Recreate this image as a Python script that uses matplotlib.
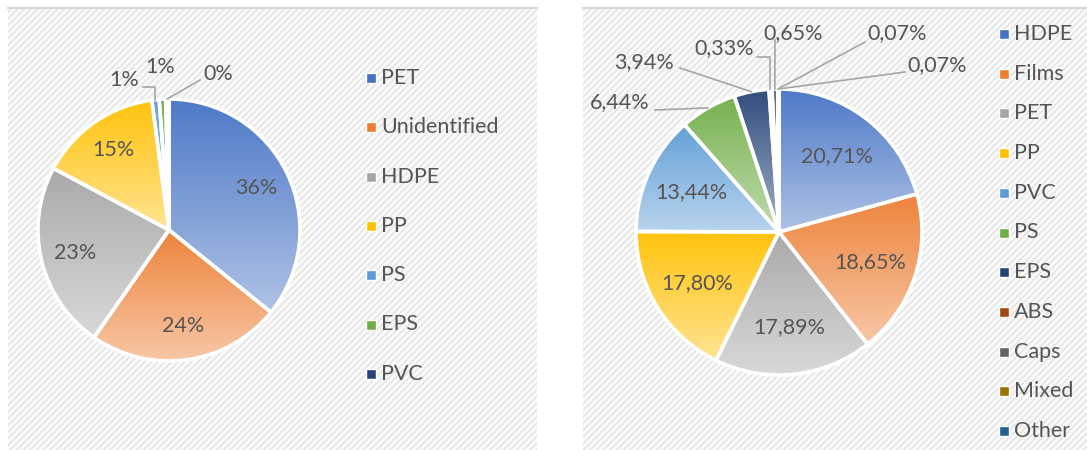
import numpy as np
import matplotlib
matplotlib.use("Agg")
import matplotlib.pyplot as plt
import matplotlib.colors as mcolors
from matplotlib.patches import Rectangle

# --- data ---
left_labels = ["PET", "Unidentified", "HDPE", "PP", "PS", "EPS", "PVC"]
left_values = [35.8, 23.9, 23.1, 15.1, 0.9, 0.8, 0.4]
left_colors = ["#4472C4", "#ED7D31", "#A5A5A5", "#FFC000", "#5B9BD5", "#70AD47", "#264478"]

right_labels = ["HDPE", "Films", "PET", "PP", "PVC", "PS", "EPS", "ABS", "Caps", "Mixed", "Other"]
right_values = [20.71, 18.65, 17.89, 17.80, 13.44, 6.44, 3.94, 0.33, 0.65, 0.07, 0.07]
right_colors = ["#4472C4", "#ED7D31", "#A5A5A5", "#FFC000", "#5B9BD5", "#70AD47",
                "#264478", "#9E480E", "#636363", "#997300", "#255E91"]

# outside labels: index -> (text x, text y, line start x, line start y, elbow) in pixel units
left_outside = {4: (124, 80, 143, 87, True), 5: (160, 67, None, None, False),
                6: (218, 74, 200, 80, False)}
right_outside = {5: (620, 102, 655, 110, False), 6: (644, 62, 680, 68, False),
                 7: (724, 48, 757, 57, True), 8: (793, 33, 775, 40, False),
                 9: (897, 33, 865, 42, False), 10: (937, 65, 905, 72, False)}

W, H = 1087, 450
TXT = "#555555"
LINE = "#A6A6A6"
FS = 15.5
plt.rcParams["font.family"] = ["Lato", "DejaVu Sans"]
plt.rcParams["hatch.linewidth"] = 1.1

fig = plt.figure(figsize=(W / 100, H / 100), dpi=100)


def gradient_fill(ax, wedge, color, light=0.55):
    bb = wedge.get_path().get_extents()
    base = np.array(mcolors.to_rgb(color))
    base = base + (1 - base) * 0.05
    t = np.linspace(0, 1, 200)[:, None, None]
    img = base + (1 - base) * light * t
    im = ax.imshow(img, extent=[bb.x0, bb.x1, bb.y0, bb.y1], origin="upper",
                   aspect="auto", zorder=1.5, interpolation="bilinear")
    im.set_clip_path(wedge)


def panel(px0, px1, center, radius, values, colors, labels, fmt, outside,
          pctdist, leg_x, leg_y0, leg_dy):
    ax = fig.add_axes([px0 / W, 0, (px1 - px0) / W, (H - 8) / H])
    ax.add_patch(Rectangle((0, 0), 1, 1, transform=ax.transAxes, facecolor="#FAFAFA",
                           edgecolor="#E3E3E3", hatch="/////", lw=0, zorder=0))
    ax.plot([0, 1], [1, 1], transform=ax.transAxes, color="#D9D9D9", lw=1.5,
            clip_on=False, zorder=0.5)
    cx, cy = center[0], H - center[1]
    wedges, _ = ax.pie(values, colors=colors, startangle=90, counterclock=False,
                       center=(cx, cy), radius=radius,
                       wedgeprops=dict(edgecolor="white", linewidth=2.6, zorder=2))
    for w, c in zip(wedges, colors):
        w.set_facecolor("none")
        gradient_fill(ax, w, c)
    for i, (w, v) in enumerate(zip(wedges, values)):
        ang = np.deg2rad((w.theta1 + w.theta2) / 2)
        txt = fmt(v)
        if i in outside:
            tx, ty, sx, sy, elbow = outside[i]
            ax.text(tx, H - ty, txt, ha="center", va="center", fontsize=FS,
                    color=TXT, zorder=4)
            if sx is not None:
                ex = cx + radius * np.cos(ang)
                ey = cy + radius * np.sin(ang)
                if elbow:
                    xs, ys = [sx, ex, ex], [H - sy, H - sy, ey]
                else:
                    xs, ys = [sx, ex], [H - sy, ey]
                ax.plot(xs, ys, color=LINE, lw=1.2, zorder=3)
        else:
            ax.text(cx + pctdist * np.cos(ang), cy + pctdist * np.sin(ang), txt,
                    ha="center", va="center", fontsize=FS, color=TXT, zorder=4)
    # legend
    for i, (lab, c) in enumerate(zip(labels, colors)):
        y = H - (leg_y0 + i * leg_dy)
        ax.plot([leg_x], [y], marker="s", markersize=7, color=c,
                markeredgecolor="white", markeredgewidth=1.0, zorder=4, clip_on=False)
        ax.text(leg_x + 10, y, lab, ha="left", va="center", fontsize=FS,
                color=TXT, zorder=4)
    ax.set_xlim(px0, px1)
    ax.set_ylim(0, H - 8)
    ax.set_aspect("equal")
    ax.axis("off")
    return ax


panel(8, 537, (169, 230), 131, left_values, left_colors, left_labels,
      lambda v: f"{v:.0f}%", left_outside, 97, 371, 78, 49.3)
panel(583, 1087, (779, 232), 143, right_values, right_colors, right_labels,
      lambda v: f"{v:.2f}%".replace(".", ","), right_outside, 96, 1004, 34, 39.7)

fig.savefig("out.png", dpi=100)
